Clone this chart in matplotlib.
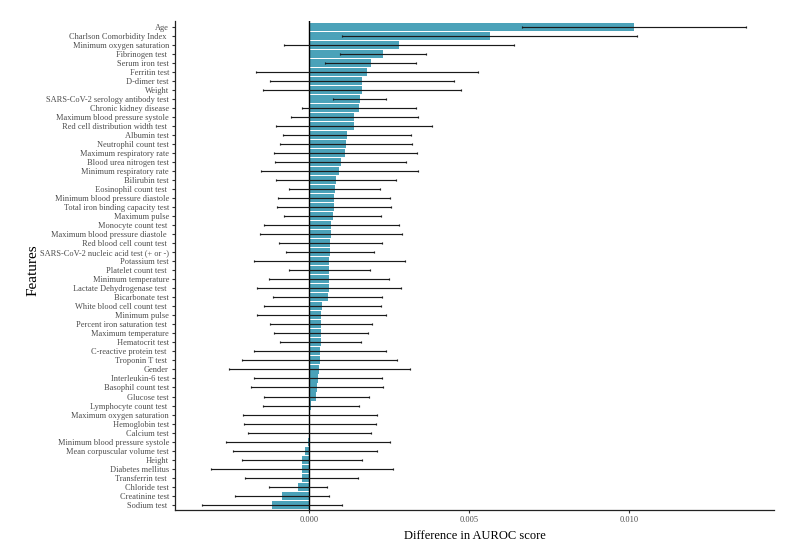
import matplotlib
matplotlib.use("Agg")
import matplotlib.pyplot as plt
import numpy as np

features = [
    "Age", "Charlson Comorbidity Index ", "Minimum oxygen saturation", "Fibrinogen test ",
    "Serum iron test", "Ferritin test", "D-dimer test", "Weight",
    "SARS-CoV-2 serology antibody test", "Chronic kidney disease",
    "Maximum blood pressure systole", "Red cell distribution width test ",
    "Albumin test", "Neutrophil count test", "Maximum respiratory rate",
    "Blood urea nitrogen test", "Minimum respiratory rate", "Bilirubin test",
    "Eosinophil count test ", "Minimum blood pressure diastole",
    "Total iron binding capacity test", "Maximum pulse", "Monocyte count test ",
    "Maximum blood pressure diastole ", "Red blood cell count test ",
    "SARS-CoV-2 nucleic acid test (+ or -)", "Potassium test", "Platelet count test ",
    "Minimum temperature", "Lactate Dehydrogenase test ", "Bicarbonate test",
    "White blood cell count test ", "Minimum pulse", "Percent iron saturation test ",
    "Maximum temperature", "Hematocrit test", "C-reactive protein test ",
    "Troponin T test ", "Gender", "Interleukin-6 test", "Basophil count test",
    "Glucose test", "Lymphocyte count test ", "Maximum oxygen saturation",
    "Hemoglobin test", "Calcium test", "Minimum blood pressure systole",
    "Mean corpuscular volume test", "Height", "Diabetes mellitus",
    "Transferrin test ", "Chloride test", "Creatinine test", "Sodium test ",
]

diff = [
    0.01013, 0.00563, 0.00281, 0.00230, 0.00192, 0.00180, 0.00165, 0.00165,
    0.00157, 0.00156, 0.00141, 0.00139, 0.00118, 0.00115, 0.00113, 0.00098,
    0.00093, 0.00083, 0.00079, 0.00077, 0.00077, 0.00073, 0.00069, 0.00068,
    0.00066, 0.00064, 0.00063, 0.00063, 0.00062, 0.00062, 0.00057, 0.00040,
    0.00037, 0.00036, 0.00036, 0.00035, 0.00034, 0.00033, 0.00031, 0.00026,
    0.00024, 0.00022, 0.00006, 0.00002, 0.00002, 0.00001, -0.00005, -0.00013,
    -0.00023, -0.00023, -0.00024, -0.00036, -0.00086, -0.00116,
]

err = [
    0.00350, 0.00461, 0.00359, 0.00135, 0.00142, 0.00347, 0.00288, 0.00310,
    0.00083, 0.00178, 0.00199, 0.00244, 0.00200, 0.00207, 0.00222, 0.00204,
    0.00245, 0.00187, 0.00143, 0.00174, 0.00177, 0.00151, 0.00211, 0.00221,
    0.00162, 0.00138, 0.00237, 0.00127, 0.00188, 0.00224, 0.00171, 0.00183,
    0.00202, 0.00160, 0.00147, 0.00128, 0.00206, 0.00242, 0.00283, 0.00200,
    0.00205, 0.00164, 0.00150, 0.00210, 0.00207, 0.00191, 0.00256, 0.00225,
    0.00188, 0.00283, 0.00176, 0.00090, 0.00147, 0.00218,
]

xticks = [0.0, 0.005, 0.010]
xtick_labels = ["0.000", "0.005", "0.010"]

plt.rcParams['font.family'] = ['Liberation Serif', 'DejaVu Serif']

fig = plt.figure(figsize=(8, 5.6), dpi=100)
ax = fig.add_axes([0.219, 0.089, 0.749, 0.873])

n = len(features)
y = np.arange(n)[::-1]

ax.barh(y, diff, height=0.9, color="#4ba2b9", zorder=2)
ax.axvline(0, color="black", linewidth=1.0, zorder=3)
ax.errorbar(diff, y, xerr=err, fmt="none", ecolor="#1a1a1a", elinewidth=0.85,
            capsize=1, capthick=0.85, zorder=4)

ax.set_ylim(-0.6, n - 0.4)
ax.set_xlim(-0.00419, 0.01453)
ax.set_yticks(y)
ax.set_yticklabels(features, fontsize=6.0, color="#4d4d4d")
ax.set_xticks(xticks)
ax.set_xticklabels(xtick_labels, fontsize=6.0, color="#4d4d4d")
ax.tick_params(axis="both", length=2.5, width=0.8, color="#333333", pad=2)

for s in ["top", "right"]:
    ax.spines[s].set_visible(False)
for s in ["left", "bottom"]:
    ax.spines[s].set_linewidth(0.9)
    ax.spines[s].set_color("#222222")

ax.set_xlabel("Difference in AUROC score", fontsize=9.0, labelpad=4)
ax.set_ylabel("Features", fontsize=11)
ax.yaxis.set_label_coords(-0.227, 0.49)

fig.savefig("out.png", dpi=100)
